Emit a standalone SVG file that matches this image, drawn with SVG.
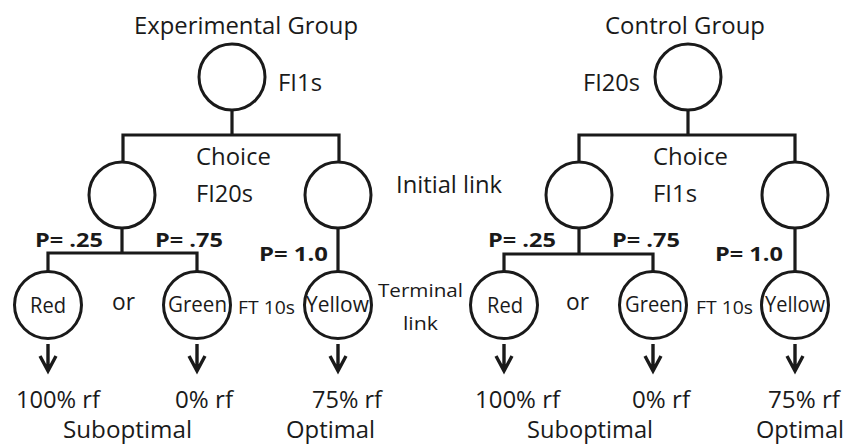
<svg xmlns="http://www.w3.org/2000/svg" width="846" height="444" viewBox="0 0 846 444">
<style>
.n{fill:#fff;stroke:#1a1a1a;stroke-width:3}
.c{fill:none;stroke:#1a1a1a;stroke-width:3.2}
.a{fill:none;stroke:#1a1a1a;stroke-width:3.4;stroke-linejoin:miter}
text{font-family:"Open Sans","Noto Sans","Liberation Sans",sans-serif;fill:#1a1a1a;font-size:23px}
.b{font-weight:bold;font-size:20px}
.s{font-size:19px}
.i{font-size:21px}
.o{font-size:24px}
</style>
<defs>
<path id="arr" class="a" d="M0,344 V371 M-8,356 L0,371 L8,356"/>
</defs>
<rect width="846" height="444" fill="#fff"/>
<g id="connectors">
<path class="c" d="M232,110 V135 M123,135 H339 M123,133.5 V163 M339,133.5 V163"/>
<path class="c" d="M122,228 V253 M48,253 H197 M48,251.5 V272 M197,251.5 V272 M338,228 V272"/>
<path class="c" d="M688,110 V135 M579,135 H795 M579,133.5 V163 M795,133.5 V163"/>
<path class="c" d="M579,228 V254 M504,254 H653 M504,252.5 V272 M653,252.5 V272 M795,228 V272"/>
<use href="#arr" x="48"/><use href="#arr" x="197"/><use href="#arr" x="338"/>
<use href="#arr" x="504"/><use href="#arr" x="653"/><use href="#arr" x="795"/>
</g>
<g id="exp-title"><text x="134" y="34" textLength="224" lengthAdjust="spacingAndGlyphs">Experimental Group</text></g>
<g id="exp-start"><circle class="n" cx="232" cy="77" r="33"/><text x="278" y="91" textLength="44" lengthAdjust="spacingAndGlyphs">FI1s</text></g>
<g id="exp-choice"><text x="196" y="165" textLength="75" lengthAdjust="spacingAndGlyphs">Choice</text><text x="196" y="202" textLength="57" lengthAdjust="spacingAndGlyphs">FI20s</text></g>
<g id="exp-il-left"><circle class="n" cx="122" cy="195" r="33"/></g>
<g id="exp-il-right"><circle class="n" cx="338" cy="195" r="33"/></g>
<g id="initial-link"><text x="396" y="193" textLength="106" lengthAdjust="spacingAndGlyphs">Initial link</text></g>
<g id="exp-p"><text class="b" x="35" y="247" textLength="68" lengthAdjust="spacingAndGlyphs">P= .25</text><text class="b" x="155" y="247" textLength="68" lengthAdjust="spacingAndGlyphs">P= .75</text><text class="b" x="259" y="261" textLength="69" lengthAdjust="spacingAndGlyphs">P= 1.0</text></g>
<g id="exp-red"><circle class="n" cx="48" cy="305" r="33.5"/><text class="i" x="30" y="313" textLength="36" lengthAdjust="spacingAndGlyphs">Red</text></g>
<g id="exp-or"><text class="o" x="112" y="310" textLength="23" lengthAdjust="spacingAndGlyphs">or</text></g>
<g id="exp-green"><circle class="n" cx="197" cy="305" r="33.5"/><text class="i" x="168" y="312" textLength="59" lengthAdjust="spacingAndGlyphs">Green</text></g>
<g id="exp-ft"><text class="s" x="238" y="314" textLength="57" lengthAdjust="spacingAndGlyphs">FT 10s</text></g>
<g id="exp-yellow"><circle class="n" cx="338" cy="305" r="33.5"/><text class="i" x="306" y="312" textLength="63" lengthAdjust="spacingAndGlyphs">Yellow</text></g>
<g id="terminal-link"><text class="s" x="378" y="297" textLength="85" lengthAdjust="spacingAndGlyphs">Terminal</text><text class="s" x="403" y="330" textLength="35" lengthAdjust="spacingAndGlyphs">link</text></g>
<g id="exp-out"><text x="16" y="408" textLength="84" lengthAdjust="spacingAndGlyphs">100% rf</text><text x="175" y="408" textLength="58" lengthAdjust="spacingAndGlyphs">0% rf</text><text x="312" y="408" textLength="70" lengthAdjust="spacingAndGlyphs">75% rf</text><text x="63" y="438" textLength="129" lengthAdjust="spacingAndGlyphs">Suboptimal</text><text x="286" y="438" textLength="89" lengthAdjust="spacingAndGlyphs">Optimal</text></g>
<g id="ctl-title"><text x="605" y="34" textLength="160" lengthAdjust="spacingAndGlyphs">Control Group</text></g>
<g id="ctl-start"><circle class="n" cx="688" cy="77" r="33"/><text x="583" y="91" textLength="57" lengthAdjust="spacingAndGlyphs">FI20s</text></g>
<g id="ctl-choice"><text x="653" y="165" textLength="75" lengthAdjust="spacingAndGlyphs">Choice</text><text x="653" y="202" textLength="44" lengthAdjust="spacingAndGlyphs">FI1s</text></g>
<g id="ctl-il-left"><circle class="n" cx="579" cy="195" r="33"/></g>
<g id="ctl-il-right"><circle class="n" cx="795" cy="195" r="33"/></g>
<g id="ctl-p"><text class="b" x="488" y="247" textLength="68" lengthAdjust="spacingAndGlyphs">P= .25</text><text class="b" x="612" y="247" textLength="68" lengthAdjust="spacingAndGlyphs">P= .75</text><text class="b" x="715" y="261" textLength="68" lengthAdjust="spacingAndGlyphs">P= 1.0</text></g>
<g id="ctl-red"><circle class="n" cx="504" cy="305" r="33.5"/><text class="i" x="487" y="313" textLength="36" lengthAdjust="spacingAndGlyphs">Red</text></g>
<g id="ctl-or"><text class="o" x="566" y="310" textLength="23" lengthAdjust="spacingAndGlyphs">or</text></g>
<g id="ctl-green"><circle class="n" cx="653" cy="305" r="33.5"/><text class="i" x="625" y="312" textLength="58" lengthAdjust="spacingAndGlyphs">Green</text></g>
<g id="ctl-ft"><text class="s" x="696" y="314" textLength="57" lengthAdjust="spacingAndGlyphs">FT 10s</text></g>
<g id="ctl-yellow"><circle class="n" cx="795" cy="305" r="33.5"/><text class="i" x="765" y="312" textLength="60" lengthAdjust="spacingAndGlyphs">Yellow</text></g>
<g id="ctl-out"><text x="475" y="408" textLength="85" lengthAdjust="spacingAndGlyphs">100% rf</text><text x="632" y="408" textLength="58" lengthAdjust="spacingAndGlyphs">0% rf</text><text x="768" y="408" textLength="72" lengthAdjust="spacingAndGlyphs">75% rf</text><text x="527" y="438" textLength="126" lengthAdjust="spacingAndGlyphs">Suboptimal</text><text x="756" y="438" textLength="88" lengthAdjust="spacingAndGlyphs">Optimal</text></g>
</svg>
